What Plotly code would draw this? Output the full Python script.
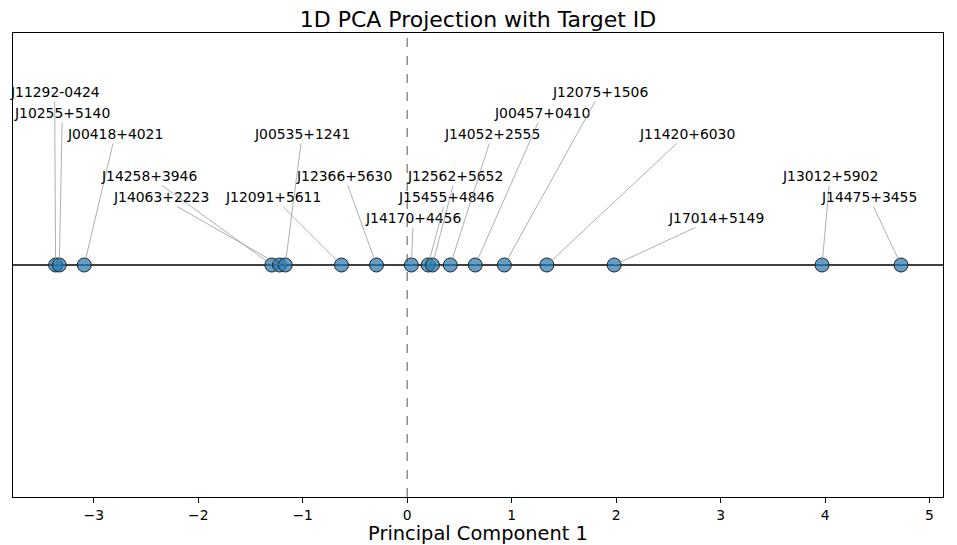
import plotly.graph_objects as go

# ---- data ----
target_ids = [
    "J11292-0424", "J10255+5140", "J00418+4021", "J14258+3946", "J14063+2223",
    "J00535+1241", "J12091+5611", "J12366+5630", "J14170+4456", "J15455+4846",
    "J12562+5652", "J14052+2555", "J00457+0410", "J12075+1506", "J11420+6030",
    "J17014+5149", "J13012+5902", "J14475+3455",
]
pc1_values = [
    -3.365, -3.330, -3.091, -1.295, -1.222,
    -1.167, -0.629, -0.294, 0.040, 0.201,
    0.242, 0.413, 0.652, 0.930, 1.337,
    1.981, 3.971, 4.727,
]
x_ticks = [-3, -2, -1, 0, 1, 2, 3, 4, 5]

# ---- label placement (pixel offsets of label centre from its point) ----
label_dx = [-1, 3, 31, -123, -119, 17, -68, -32, 2, 18, 23, 42, 67, 96, 140, 102, 8, -32]
label_dy = [-173, -152, -131, -89, -68, -131, -68, -89, -47, -68, -89, -131, -152, -173, -131, -47, -89, -68]

FONT = "DejaVu Sans"

fig = go.Figure()
fig.add_trace(go.Scatter(
    x=pc1_values,
    y=[0] * len(pc1_values),
    mode="markers",
    marker=dict(size=14, color="rgba(31,119,180,0.7)",
                line=dict(color="#222222", width=1)),
    hoverinfo="text",
    text=target_ids,
    showlegend=False,
))

annotations = []
for name, xv, dx, dy in zip(target_ids, pc1_values, label_dx, label_dy):
    annotations.append(dict(
        x=xv, y=0, xref="x", yref="y",
        text=name, showarrow=True, arrowhead=0,
        arrowwidth=0.7, arrowcolor="#8c8c8c",
        ax=dx, ay=dy, standoff=0, startstandoff=0,
        font=dict(family=FONT, size=13.9, color="black"),
    ))

fig.add_shape(type="line", xref="paper", yref="y", x0=0, x1=1, y0=0, y1=0,
              line=dict(color="black", width=1.3), layer="below")
fig.add_shape(type="line", xref="x", yref="paper", x0=0, x1=0, y0=0, y1=1,
              line=dict(color="#555555", width=1, dash="dash"), layer="below")

# page body adds an 8px offset; size/margins compensate for it
fig.update_layout(
    width=949, height=537,
    margin=dict(l=5, r=14, t=25, b=42),
    paper_bgcolor="white", plot_bgcolor="white",
    font=dict(family=FONT, color="black"),
    title=dict(text="1D PCA Projection with Target ID", x=(478 - 8) / 949, xanchor="center",
               y=1 - 11.5 / 537, yref="container", yanchor="middle",
               font=dict(family=FONT, size=22, color="black")),
    annotations=annotations,
    xaxis=dict(
        range=[-3.773, 5.129], tickvals=x_ticks,
        ticks="outside", ticklen=5, tickwidth=1, tickcolor="black",
        tickfont=dict(family=FONT, size=13.9, color="black"),
        showgrid=False, zeroline=False,
        showline=True, linecolor="black", linewidth=1, mirror=True,
        title=dict(text="Principal Component 1", standoff=4,
                   font=dict(family=FONT, size=19.4, color="black")),
    ),
    yaxis=dict(
        range=[-1, 1], showticklabels=False, ticks="",
        showgrid=False, zeroline=False,
        showline=True, linecolor="black", linewidth=1, mirror=True,
    ),
)

fig.write_html("out.html")
